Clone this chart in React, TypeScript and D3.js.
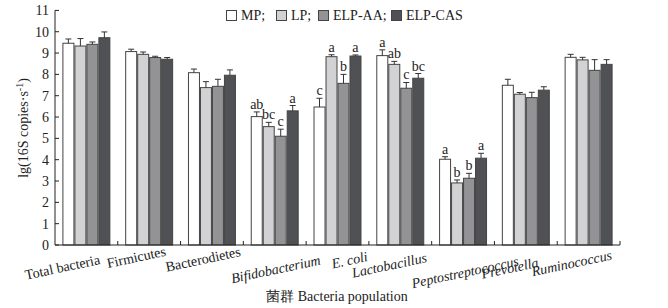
import React, { useEffect, useRef } from "react";
import * as d3 from "d3";

const categories = [
  "Total bacteria",
  "Firmicutes",
  "Bacterodietes",
  "Bifidobacterium",
  "E. coli",
  "Lactobacillus",
  "Peptostreptococcus",
  "Prevotella",
  "Ruminococcus",
];
const italicCats = ["Bifidobacterium", "E. coli", "Lactobacillus", "Peptostreptococcus", "Prevotella", "Ruminococcus"];
const seriesNames = ["MP", "LP", "ELP-AA", "ELP-CAS"];
const seriesColors = ["#ffffff", "#d2d2d4", "#939396", "#505154"];

const mpValues = [9.46, 9.07, 8.08, 6.02, 6.47, 8.88, 4.02, 7.49, 8.8];
const lpValues = [9.33, 8.94, 7.38, 5.55, 8.83, 8.47, 2.91, 7.07, 8.68];
const aaValues = [9.41, 8.79, 7.44, 5.1, 7.58, 7.35, 3.13, 6.91, 8.19];
const casValues = [9.72, 8.71, 7.96, 6.29, 8.86, 7.82, 4.07, 7.26, 8.47];

const mpErr = [0.2, 0.11, 0.17, 0.22, 0.41, 0.27, 0.12, 0.28, 0.14];
const lpErr = [0.35, 0.11, 0.28, 0.2, 0.09, 0.14, 0.14, 0.08, 0.12];
const aaErr = [0.11, 0.06, 0.33, 0.33, 0.42, 0.27, 0.23, 0.25, 0.5];
const casErr = [0.27, 0.08, 0.25, 0.25, 0.05, 0.22, 0.23, 0.16, 0.22];

const mpLetters = ["", "", "", "ab", "c", "a", "a", "", ""];
const lpLetters = ["", "", "", "bc", "a", "ab", "b", "", ""];
const aaLetters = ["", "", "", "c", "b", "c", "b", "", ""];
const casLetters = ["", "", "", "a", "a", "bc", "a", "", ""];

const yTicks = [0, 1, 2, 3, 4, 5, 6, 7, 8, 9, 10, 11];

// layout nudges for rotated category labels (dx, dy from group centre)
const labelNudge: [number, number][] = [
  [-24, 22], [-13, 12], [-9, 14], [1, 24], [12, 15], [-11, 20], [2, 27], [-16, 23], [-17, 18],
];

const W = 668;
const H = 308;
const FONT = "'Liberation Serif', serif";

export default function App() {
  const values = [mpValues, lpValues, aaValues, casValues];
  const errs = [mpErr, lpErr, aaErr, casErr];
  const letters = [mpLetters, lpLetters, aaLetters, casLetters];
  const labelsRef = useRef<SVGGElement>(null);

  const x0 = d3.scaleBand<string>().domain(categories).range([55, 620]).paddingInner(0.236).paddingOuter(0.118);
  const x1 = d3.scaleBand<string>().domain(seriesNames).range([0, x0.bandwidth()]).padding(0);
  const y = d3.scaleLinear().domain([0, 11]).range([245, 10.4]);
  const step = x0.step();
  const boundaries = d3.range(1, categories.length + 1).map((i) => 55 + i * step);

  const legendX = [226, 276, 318, 391];

  useEffect(() => {
    const g = d3.select(labelsRef.current);
    g.selectAll("*").remove();
    g.selectAll("text")
      .data(categories)
      .join("text")
      .attr("transform", (c, ci) => {
        const cx = x0(c)! + x0.bandwidth() / 2 + labelNudge[ci][0];
        const cy = y(0) + labelNudge[ci][1];
        return `translate(${cx},${cy}) rotate(-12)`;
      })
      .attr("text-anchor", "middle")
      .attr("dy", "0.35em")
      .attr("font-size", 14)
      .attr("font-style", (c) => (italicCats.includes(c) ? "italic" : "normal"))
      .attr("fill", "#222")
      .text((c) => c);
  }, []);

  return (
    <svg width={W} height={H} style={{ position: "absolute", left: 0, top: 0, background: "#fff" }} fontFamily={FONT}>
      <rect x={0} y={0} width={W} height={H} fill="#fff" />
      {categories.map((c, ci) => (
        <g key={c} transform={`translate(${x0(c)},0)`}>
          {seriesNames.map((s, si) => {
            const v = values[si][ci];
            const e = errs[si][ci];
            const bx = x1(s)!;
            const bw = x1.bandwidth();
            const cx = bx + bw / 2;
            return (
              <g key={s}>
                <rect x={bx + 0.5} y={y(v)} width={bw - 1} height={y(0) - y(v)} fill={seriesColors[si]} stroke="#444" strokeWidth={1} />
                <line x1={cx} x2={cx} y1={y(v)} y2={y(v + e)} stroke="#333" strokeWidth={1} />
                <line x1={cx - 3} x2={cx + 3} y1={y(v + e)} y2={y(v + e)} stroke="#333" strokeWidth={1} />
                {letters[si][ci] && (
                  <text x={cx} y={y(v + e) - 3} textAnchor="middle" fontSize={14} fill="#222">
                    {letters[si][ci]}
                  </text>
                )}
              </g>
            );
          })}
        </g>
      ))}
      <line x1={55} x2={55} y1={y(11)} y2={y(0)} stroke="#222" strokeWidth={1} />
      <line x1={55} x2={620} y1={y(0)} y2={y(0)} stroke="#222" strokeWidth={1} />
      {yTicks.map((t) => (
        <g key={t}>
          <line x1={55} x2={59} y1={y(t)} y2={y(t)} stroke="#222" />
          <text x={49} y={y(t)} dy="0.35em" textAnchor="end" fontSize={14} fill="#222">
            {t}
          </text>
        </g>
      ))}
      {boundaries.map((b, i) => (
        <line key={i} x1={b} x2={b} y1={y(0)} y2={y(0) - 4} stroke="#222" />
      ))}
      <g ref={labelsRef} />
      <text x={337} y={301} textAnchor="middle" fontSize={14} fill="#222">
        菌群 Bacteria population
      </text>
      <text transform={`translate(23,128) rotate(-90)`} textAnchor="middle" dy="0.35em" fontSize={14} fill="#222">
        lg(16S copies·s<tspan dy="-5" fontSize={10}>-1</tspan>
        <tspan dy="5">)</tspan>
      </text>
      {seriesNames.map((s, si) => (
        <g key={s} transform={`translate(${legendX[si]},10)`}>
          <rect x={0.5} y={0.5} width={10} height={10} fill={seriesColors[si]} stroke="#444" />
          <text x={15} y={5.5} dy="0.35em" fontSize={14} fill="#222">
            {s + (si < seriesNames.length - 1 ? ";" : "")}
          </text>
        </g>
      ))}
    </svg>
  );
}
